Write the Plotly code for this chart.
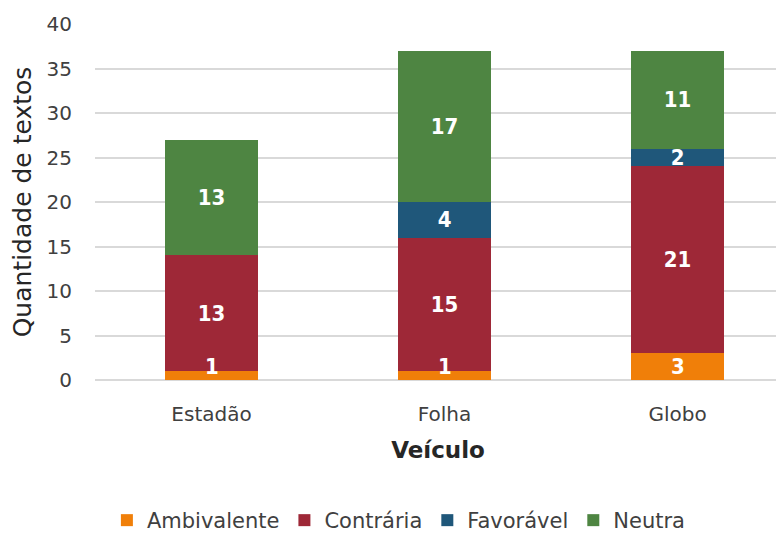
import plotly.graph_objects as go

categories = ["Estadão", "Folha", "Globo"]
ambivalente = [1, 1, 3]
contraria = [13, 15, 21]
favoravel = [0, 4, 2]
neutra = [13, 17, 11]

series = [
    ("Ambivalente", ambivalente, "#F07F09"),
    ("Contrária", contraria, "#9E2837"),
    ("Favorável", favoravel, "#1F577A"),
    ("Neutra", neutra, "#4E8542"),
]

FONT = "DejaVu Sans"
LBL = dict(color="white", size=22, family="Liberation Sans Narrow, DejaVu Sans Condensed", weight="bold")
fig = go.Figure()
for name, vals, color in series:
    small = name == "Ambivalente"
    fig.add_trace(go.Bar(
        x=categories, y=vals, name=name,
        marker=dict(color=color, line=dict(width=0)),
        text=None if small else [str(v) if v else "" for v in vals],
        textposition="none" if small else "inside",
        insidetextanchor="middle", textangle=0,
        textfont=LBL,
        width=0.40,
    ))

# labels for the thin bottom segments, kept above the axis like the original
for c, v in zip(categories, ambivalente):
    fig.add_annotation(x=c, y=max(v, 3) / 2, text=str(v), showarrow=False,
                       font=LBL, xanchor="center", yanchor="middle")

fig.update_layout(
    barmode="stack",
    width=784, height=533,
    margin=dict(l=87, r=11, t=16, b=161),
    plot_bgcolor="white", paper_bgcolor="white",
    font=dict(family=FONT, color="#404040"),
    uniformtext=dict(minsize=22, mode="show"),
    legend=dict(orientation="h", x=0.443, xanchor="center",
                yref="container", y=0.0, yanchor="bottom",
                font=dict(size=21, color="#404040"), traceorder="normal",
                itemwidth=30),
    showlegend=True,
)
fig.update_xaxes(
    range=[-0.5, 2.444], showgrid=False, automargin=False,
    tickfont=dict(size=20, color="#404040"),
    title=dict(text="<b>Veículo</b>", font=dict(size=23, color="#262626"), standoff=16),
    showline=False, ticks="", ticklabelstandoff=20,
)
fig.update_yaxes(
    range=[0, 40], dtick=5, showgrid=True, gridcolor="#D9D9D9", gridwidth=1.5,
    zeroline=True, zerolinecolor="#D9D9D9", zerolinewidth=1.5, automargin=False,
    tickfont=dict(size=20, color="#404040"),
    title=dict(text="Quantidade de textos", font=dict(size=25, color="#262626"), standoff=8),
    ticks="", ticklabelstandoff=22,
)
fig.write_html("out.html")
